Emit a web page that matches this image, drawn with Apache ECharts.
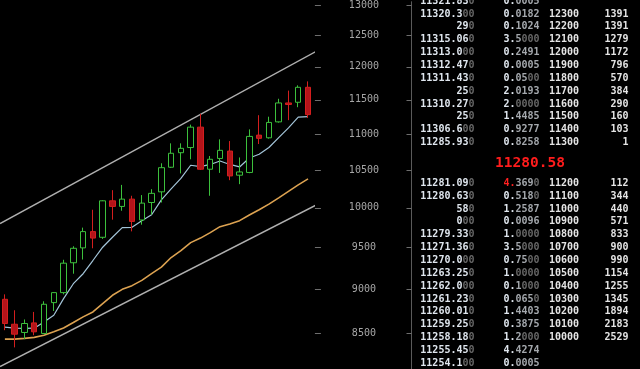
<!DOCTYPE html>
<html><head><meta charset="utf-8">
<script src="https://cdn.jsdelivr.net/npm/echarts@6/dist/echarts.min.js"></script>
<style>html,body{margin:0;padding:0;background:#000;}#c{width:640px;height:369px;}</style>
</head><body><div id="c"></div>
<script>
// ---------- data ----------
const categories = ['1','2','3','4','5','6','7','8','9','10','11','12','13','14','15','16','17','18','19','20','21','22','23','24','25','26','27','28','29','30','31','32'];
const opens  = [8884,8602,8511,8617,8500,8846,8961,9314,9495,9697,9626,10091,10018,10113,9844,10069,10209,10539,10739,10811,11100,10512,10659,10762,10431,10468,10986,10948,11176,11453,11463,11687];
const closes = [8610,8492,8610,8518,8827,8961,9309,9490,9697,9616,10091,10018,10113,9826,10061,10189,10533,10731,10800,11100,10512,10648,10772,10421,10475,10968,10940,11168,11453,11430,11687,11281];
const lows   = [8536,8348,8438,8481,8492,8751,8941,9183,9353,9490,9606,9848,9962,9700,9784,9911,10069,10530,10455,10648,10502,10157,10462,10364,10311,10458,10860,10937,11165,11201,11390,11234];
const highs  = [8941,8759,8655,8740,8861,8966,9350,9515,9747,9975,10098,10231,10301,10157,10166,10244,10593,10870,10870,11136,11292,10693,10926,10902,10673,11068,11273,11251,11515,11637,11717,11777];
const maFast = [8569,8558,8555,8558,8628,8703,8892,9065,9183,9341,9503,9626,9747,9751,9835,9911,10104,10248,10388,10566,10547,10577,10625,10577,10543,10666,10717,10811,10951,11090,11244,11252];
const maSlow = [8438,8438,8446,8457,8481,8518,8561,8621,8684,8740,8835,8930,8999,9042,9104,9183,9261,9377,9462,9560,9616,9684,9759,9793,9835,9907,9975,10048,10130,10216,10301,10381];
const upperChannel = [[-0.5, 9798], [32, 12257]];
const lowerChannel = [[-0.5, 8144], [32, 10048]];
const priceTicks = [8500, 9000, 9500, 10000, 10500, 11000, 11500, 12000, 12500, 13000];

const askPrices  = ['11321.830','11320.300','290','11315.060','11313.000','11312.470','11311.430','250','11310.270','250','11306.600','11285.930'];
const askAmounts = ['0.0005','0.0182','0.1024','3.5000','0.2491','0.0005','0.0500','2.0193','2.0000','1.4485','0.9277','0.8258'];
const askLevels  = ['','12300','12200','12100','12000','11900','11800','11700','11600','11500','11400','11300'];
const askTotals  = ['','1391','1391','1279','1172','796','570','384','290','160','103','1'];
const lastPrice  = '11280.58';
const bidPrices  = ['11281.090','11280.630','580','000','11279.330','11271.360','11270.000','11263.250','11262.000','11261.230','11260.010','11259.250','11258.180','11255.450','11254.100'];
const bidAmounts = ['4.3690','0.5180','1.2587','0.0096','1.0000','3.5000','0.7500','1.0000','0.1000','0.0650','1.4403','0.3875','1.2000','4.4274','0.0005'];
const bidLevels  = ['11200','11100','11000','10900','10800','10700','10600','10500','10400','10300','10200','10100','10000','',''];
const bidTotals  = ['112','344','440','571','833','900','990','1154','1255','1345','1894','2183','2529','',''];
const redAmountBidRows = [0];

// ---------- chart ----------
const candleData = opens.map((o, i) => [o, closes[i], lows[i], highs[i]]);
const FONT = '"DejaVu Sans Mono", "Liberation Mono", monospace';
const BFONT = 'bold 10px ' + FONT;
const C_BRIGHT = '#dfe6ee', C_MID = '#a4a8ad', C_DIM = '#666666', C_WHITE = '#e4e4e4';

function priceRich(s) {
  let t = 0;
  while (t < 2 && s.length - t > 1 && s[s.length - 1 - t] === '0') t++;
  const a = s.slice(0, s.length - t), b = s.slice(s.length - t);
  return (a ? '{b|' + a + '}' : '') + (b ? '{d|' + b + '}' : '');
}
function amountRich(s, red) {
  const k = s.indexOf('.');
  const ip = s.slice(0, k + 1), dec = s.slice(k + 1);
  let z = 0;
  while (z < dec.length && dec[dec.length - 1 - z] === '0') z++;
  const m = dec.slice(0, dec.length - z), d = dec.slice(dec.length - z);
  return '{' + (red ? 'r' : 'b') + '|' + ip + '}' + (m ? '{m|' + m + '}' : '') + (d ? '{d|' + d + '}' : '');
}
const richStyles = {
  b: { fill: C_BRIGHT, font: BFONT },
  m: { fill: C_MID, font: BFONT },
  d: { fill: C_DIM, font: BFONT },
  r: { fill: '#ff2020', font: BFONT },
  w: { fill: C_WHITE, font: BFONT }
};
function txt(x, y, text, align) {
  return { type: 'text', x: x, y: y, silent: true, z: 100,
    style: { text: text, rich: richStyles, font: BFONT, fill: C_WHITE, align: align, verticalAlign: 'middle' } };
}
const graphics = [];
const COL1 = 474.5, COL2 = 539.5, COL3 = 549, COL4 = 628.5, ROWH = 12.85;
askPrices.forEach((p, i) => {
  const y = 1.2 + i * ROWH;
  graphics.push(txt(COL1, y, priceRich(p), 'right'));
  graphics.push(txt(COL2, y, amountRich(askAmounts[i], false), 'right'));
  if (askLevels[i]) graphics.push(txt(COL3, y, '{w|' + askLevels[i] + '}', 'left'));
  if (askTotals[i]) graphics.push(txt(COL4, y, '{w|' + askTotals[i] + '}', 'right'));
});
bidPrices.forEach((p, i) => {
  const y = 183.3 + i * ROWH;
  graphics.push(txt(COL1, y, priceRich(p), 'right'));
  graphics.push(txt(COL2, y, amountRich(bidAmounts[i], redAmountBidRows.indexOf(i) >= 0), 'right'));
  if (bidLevels[i]) graphics.push(txt(COL3, y, '{w|' + bidLevels[i] + '}', 'left'));
  if (bidTotals[i]) graphics.push(txt(COL4, y, '{w|' + bidTotals[i] + '}', 'right'));
});
graphics.push({ type: 'text', x: 530, y: 163, silent: true, z: 100,
  style: { text: lastPrice, fill: '#ff1c1c', font: 'bold 14.5px ' + FONT, align: 'center', verticalAlign: 'middle' } });

const GL = -2.93, GW = 315.84;
const chart = echarts.init(document.getElementById('c'), null, { renderer: 'canvas' });
chart.setOption({
  backgroundColor: '#000',
  animation: false,
  grid: { left: GL, top: 0, width: GW, height: 369, containLabel: false },
  xAxis: [
    { type: 'category', data: categories, show: false, boundaryGap: true },
    { type: 'value', min: -0.5, max: categories.length - 0.5, show: false }
  ],
  yAxis: [
    { type: 'log', logBase: 10, min: 8118, max: 13055, position: 'right', offset: 2,
      axisLine: { show: false, onZero: false }, splitLine: { show: false },
      axisTick: { show: true, length: 6, customValues: priceTicks, lineStyle: { color: '#6e6e6e', width: 1 } },
      axisLabel: { show: true, customValues: priceTicks, margin: 49, align: 'center',
        color: '#a6a6a6', fontFamily: FONT, fontSize: 10, formatter: v => String(Math.round(v)) } },
    { type: 'log', logBase: 10, min: 8118, max: 13055, position: 'right', offset: 98.6,
      axisLine: { show: true, onZero: false, lineStyle: { color: '#5a5a5a', width: 1 } }, splitLine: { show: false },
      axisTick: { show: true, inside: true, length: 5, customValues: priceTicks, lineStyle: { color: '#6e6e6e', width: 1 } },
      axisLabel: { show: false } }
  ],
  series: [
    { type: 'line', xAxisIndex: 1, yAxisIndex: 0, data: upperChannel, showSymbol: false, clip: false, silent: true,
      lineStyle: { color: '#b0b0b0', width: 1.5 }, z: 1 },
    { type: 'line', xAxisIndex: 1, yAxisIndex: 0, data: lowerChannel, showSymbol: false, clip: false, silent: true,
      lineStyle: { color: '#b0b0b0', width: 1.5 }, z: 1 },
    { type: 'line', xAxisIndex: 0, yAxisIndex: 0, data: maSlow, showSymbol: false, silent: true,
      lineStyle: { color: '#dca251', width: 1.6 }, z: 2 },
    { type: 'line', xAxisIndex: 0, yAxisIndex: 0, data: maFast, showSymbol: false, silent: true,
      lineStyle: { color: '#a3c4d8', width: 1.2 }, z: 3 },
    { type: 'candlestick', xAxisIndex: 0, yAxisIndex: 0, data: candleData, barWidth: 6, silent: true, z: 4,
      itemStyle: { color: '#000', color0: '#b3141a', borderColor: '#3cc03c', borderColor0: '#d41e1e', borderWidth: 1 } }
  ],
  graphic: graphics
});
</script></body></html>
